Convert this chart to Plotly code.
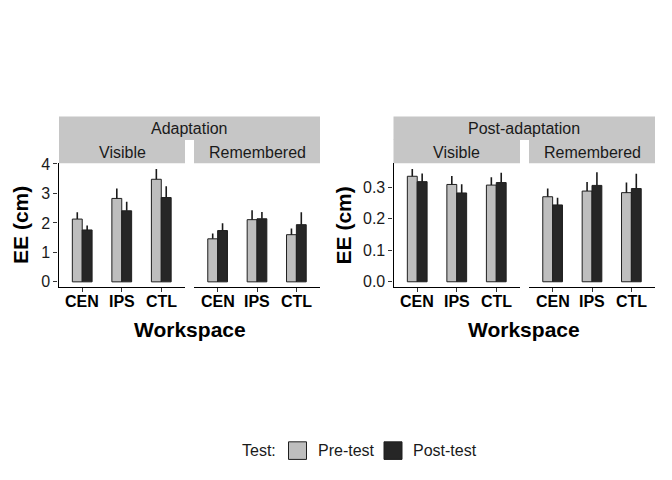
import plotly.graph_objects as go

# ---------------- data ----------------
categories = ["CEN", "IPS", "CTL"]

# Adaptation (EE in cm)
adapt_vis_pre = [2.13, 2.83, 3.48]
adapt_vis_pre_err = [0.23, 0.34, 0.35]
adapt_vis_post = [1.76, 2.41, 2.86]
adapt_vis_post_err = [0.15, 0.31, 0.38]
adapt_rem_pre = [1.46, 2.11, 1.60]
adapt_rem_pre_err = [0.18, 0.32, 0.21]
adapt_rem_post = [1.74, 2.14, 1.94]
adapt_rem_post_err = [0.25, 0.23, 0.42]

# Post-adaptation
post_vis_pre = [0.335, 0.309, 0.307]
post_vis_pre_err = [0.023, 0.027, 0.025]
post_vis_post = [0.318, 0.282, 0.315]
post_vis_post_err = [0.026, 0.028, 0.031]
post_rem_pre = [0.270, 0.288, 0.283]
post_rem_pre_err = [0.026, 0.029, 0.032]
post_rem_post = [0.244, 0.306, 0.296]
post_rem_post_err = [0.023, 0.042, 0.047]

y_ticks_adapt = [0, 1, 2, 3, 4]
y_ticks_post = [0.0, 0.1, 0.2, 0.3]

test_labels = ["Pre-test", "Post-test"]
facet_top = ["Adaptation", "Post-adaptation"]
facet_sub = ["Visible", "Remembered"]

# ---------------- styling ----------------
W, H = 672, 480
FONT = "Liberation Sans, Arial, sans-serif"
PRE_COL = "#BEBEBE"
POST_COL = "#262626"
OUTLINE = "#1f1f1f"
STRIP_COL = "#C6C6C6"
TXT = "#1a1a1a"


def px(x):
    return x / W


def py(y):
    return 1 - y / H


fig = go.Figure()

panels = [
    ("x", "y", adapt_vis_pre, adapt_vis_pre_err, adapt_vis_post, adapt_vis_post_err),
    ("x2", "y", adapt_rem_pre, adapt_rem_pre_err, adapt_rem_post, adapt_rem_post_err),
    ("x3", "y2", post_vis_pre, post_vis_pre_err, post_vis_post, post_vis_post_err),
    ("x4", "y2", post_rem_pre, post_rem_pre_err, post_rem_post, post_rem_post_err),
]

for xa, ya, pre, pre_err, post, post_err in panels:
    for vals, errs, col, name in [(pre, pre_err, PRE_COL, test_labels[0]),
                                  (post, post_err, POST_COL, test_labels[1])]:
        fig.add_trace(go.Bar(
            x=categories, y=vals, name=name, xaxis=xa, yaxis=ya,
            marker=dict(color=col, line=dict(color=OUTLINE, width=1)),
            error_y=dict(type="data", array=errs, arrayminus=[0] * len(errs),
                         symmetric=False, width=0, thickness=1.6, color=TXT),
            showlegend=False,
        ))

panel_y = [159, 286]
ydom = [py(panel_y[1]), py(panel_y[0])]
xdoms = {
    "xaxis": [px(58.5), px(185)],
    "xaxis2": [px(194), px(320)],
    "xaxis3": [px(393.5), px(520)],
    "xaxis4": [px(529), px(655)],
}
anchors = {"xaxis": "y", "xaxis2": "y", "xaxis3": "y2", "xaxis4": "y2"}

layout = dict(
    width=W, height=H, margin=dict(l=0, r=0, t=0, b=0),
    paper_bgcolor="white", plot_bgcolor="white",
    barmode="group", bargap=0.5, bargroupgap=0,
    font=dict(family=FONT, color=TXT),
)
for k, d in xdoms.items():
    layout[k] = dict(
        domain=d, anchor=anchors[k], type="category", range=[-0.6, 2.6],
        showline=True, linecolor="black", linewidth=1.1, mirror=False,
        ticks="outside", ticklen=4, tickcolor="#333", tickwidth=1,
        showgrid=False, zeroline=False, showticklabels=False,
    )
layout["yaxis"] = dict(
    domain=ydom, anchor="x", range=[-0.19, 4.02], tickvals=y_ticks_adapt,
    showline=True, linecolor="black", linewidth=1.1,
    ticks="outside", ticklen=4, tickcolor="#333", tickwidth=1,
    showgrid=False, zeroline=False,
    tickfont=dict(family=FONT, size=16, color=TXT),
)
layout["yaxis2"] = dict(
    domain=ydom, anchor="x3", range=[-0.018, 0.376], tickvals=y_ticks_post,
    tickformat=".1f",
    showline=True, linecolor="black", linewidth=1.1,
    ticks="outside", ticklen=4, tickcolor="#333", tickwidth=1,
    showgrid=False, zeroline=False,
    tickfont=dict(family=FONT, size=16, color=TXT),
)
fig.update_layout(**layout)

shapes = []
annotations = []

# x tick labels (bold, placed close to the axis as in the reference)
for xr in ["x", "x2", "x3", "x4"]:
    for c in categories:
        annotations.append(dict(text="<b>%s</b>" % c, x=c, xref=xr, y=py(300), yref="paper",
                                showarrow=False, xanchor="center", yanchor="middle",
                                font=dict(family=FONT, size=16, color="black")))

# facet strips
strip_top = [(59, 320, facet_top[0]), (393.5, 655, facet_top[1])]
strip_sub = [(59, 185, facet_sub[0]), (194, 320, facet_sub[1]),
             (393.5, 520, facet_sub[0]), (529, 655, facet_sub[1])]
for x0, x1, label in strip_top:
    shapes.append(dict(type="rect", xref="paper", yref="paper",
                       x0=px(x0), x1=px(x1), y0=py(135), y1=py(111),
                       fillcolor=STRIP_COL, line=dict(width=0), layer="below"))
    annotations.append(dict(text=label, x=px((x0 + x1) / 2), y=py(123.5),
                            xref="paper", yref="paper", showarrow=False,
                            xanchor="center", yanchor="middle",
                            font=dict(family=FONT, size=16, color=TXT)))
for x0, x1, label in strip_sub:
    shapes.append(dict(type="rect", xref="paper", yref="paper",
                       x0=px(x0), x1=px(x1), y0=py(159), y1=py(134.5),
                       fillcolor=STRIP_COL, line=dict(width=0), layer="below"))
    annotations.append(dict(text=label, x=px((x0 + x1) / 2), y=py(147.5),
                            xref="paper", yref="paper", showarrow=False,
                            xanchor="center", yanchor="middle",
                            font=dict(family=FONT, size=16, color=TXT)))

# axis titles
for xc in [189.5, 524]:
    annotations.append(dict(text="<b>Workspace</b>", x=px(xc), y=py(329),
                            xref="paper", yref="paper", showarrow=False,
                            xanchor="center", yanchor="middle",
                            font=dict(family=FONT, size=21, color="black")))
for xc in [20.5, 343]:
    annotations.append(dict(text="<b>EE (cm)</b>", x=px(xc), y=py(222.5),
                            xref="paper", yref="paper", showarrow=False,
                            xanchor="center", yanchor="middle", textangle=-90,
                            font=dict(family=FONT, size=21, color="black")))

# legend
annotations.append(dict(text="Test:", x=px(240), y=py(453), xref="paper", yref="paper",
                        showarrow=False, xanchor="left", yanchor="middle",
                        font=dict(family=FONT, size=16, color=TXT)))
for (kx0, tx), col, label in zip([(288.5, 316), (384, 411)], [PRE_COL, POST_COL], test_labels):
    shapes.append(dict(type="rect", xref="paper", yref="paper",
                       x0=px(kx0), x1=px(kx0 + 18), y0=py(462), y1=py(444),
                       fillcolor=col, line=dict(color=OUTLINE, width=1)))
    annotations.append(dict(text=label, x=px(tx), y=py(453), xref="paper", yref="paper",
                            showarrow=False, xanchor="left", yanchor="middle",
                            font=dict(family=FONT, size=16, color=TXT)))

fig.update_layout(shapes=shapes, annotations=annotations)
fig.write_html("out.html")
